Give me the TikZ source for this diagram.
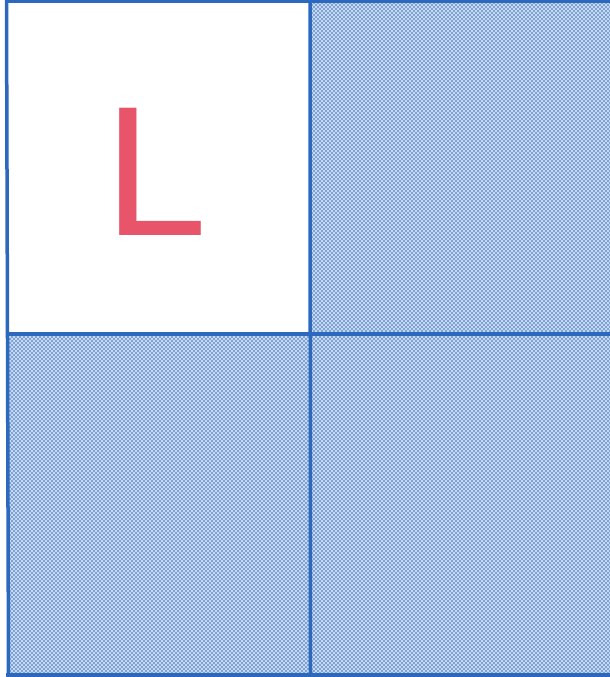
\documentclass[tikz,border=0pt]{standalone}
\usepackage{fontspec}
\setmainfont{Liberation Sans}
\usetikzlibrary{patterns}
\definecolor{gridblue}{HTML}{2C68BE}
\definecolor{dotblue}{HTML}{3D6EB8}
\definecolor{paleblue}{HTML}{C4D8F1}
\definecolor{lred}{HTML}{E8546A}
\pgfdeclarepatternformonly{halftone}{\pgfqpoint{-1pt}{-1pt}}{\pgfqpoint{3pt}{3pt}}{\pgfqpoint{4pt}{4pt}}
{
  \pgfpathcircle{\pgfqpoint{0pt}{0pt}}{0.82pt}
  \pgfpathcircle{\pgfqpoint{2pt}{2pt}}{0.82pt}
  \pgfusepath{fill}
}
\tikzset{
  shadecell/.style={fill=paleblue, postaction={pattern=halftone, pattern color=dotblue}},
  gridline/.style={draw=gridblue, line width=3.5pt},
  letter/.style={text=lred, inner sep=0pt, font=\fontsize{185}{185}\selectfont}
}
\begin{document}
\begin{tikzpicture}[x=1pt,y=1pt]
\useasboundingbox (0,0) rectangle (610,677);
\fill[white] (0,0) rectangle (610,677);
% shaded cells
\path[shadecell] (310,343) rectangle (610,675.5);
\path[shadecell] (7.5,2) rectangle (610,343);
% grid lines
\draw[gridline] (6,675.5) -- (610,675.5);
\draw[gridline] (6,2) -- (610,2);
\draw[gridline] (6,343) -- (610,343);
\draw[gridline] (6.5,677) -- (8.5,0.5);
\draw[gridline] (310,677) -- (310.5,0.5);
% letter
\node[letter, anchor=base west] (L) at (104.5,441) {L};
\end{tikzpicture}
\end{document}
